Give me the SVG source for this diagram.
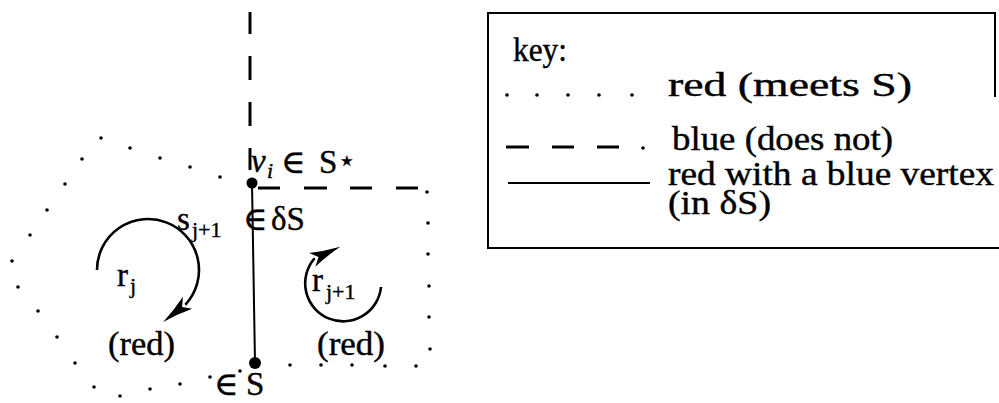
<svg xmlns="http://www.w3.org/2000/svg" width="999" height="403" viewBox="0 0 999 403">
<defs>
<style>
.t{font-family:"Liberation Serif","DejaVu Serif",serif;font-size:33px;fill:#000;stroke:#000;stroke-width:0.4}
.s{font-size:22px}
.sym{font-family:"DejaVu Serif","Liberation Serif",serif}
.dot{fill:#000}
.dash{stroke:#000;stroke-width:3;fill:none}
.solid{stroke:#000;stroke-width:2;fill:none}
.arc{fill:none;stroke:#000;stroke-width:2.6;marker-end:url(#ah)}
.vtx{fill:#000}
.frame{fill:none;stroke:#000;stroke-width:2}
</style>
<marker id="ah" markerUnits="userSpaceOnUse" viewBox="-5 -10 40 20" markerWidth="40" markerHeight="20" refX="0" refY="0" orient="auto">
<path d="M-3,-7.5 Q12,-2.5 28,0 Q12,2.5 -3,7.5 L4,0 Z" fill="#000"/>
</marker>
</defs>
<rect width="999" height="403" fill="#fff"/>

<g id="connectors">
<g id="edge-blue-vertical" class="dash">
<line x1="250" y1="12" x2="250" y2="34"/>
<line x1="250" y1="56" x2="250" y2="80"/>
<line x1="250" y1="102" x2="250" y2="126"/>
<line x1="250" y1="148" x2="250" y2="170"/>
</g>
<g id="edge-blue-horizontal" class="dash">
<line x1="258" y1="188" x2="280" y2="188"/>
<line x1="304" y1="188" x2="327" y2="188"/>
<line x1="350" y1="188" x2="372" y2="188"/>
<line x1="396" y1="188" x2="418" y2="188"/>
</g>
<line id="edge-solid" class="solid" x1="252" y1="183" x2="255" y2="363"/>
<g id="region-left-red">
<circle class="dot" cx="220" cy="177" r="1.8"/>
<circle class="dot" cx="190" cy="167" r="1.8"/>
<circle class="dot" cx="160" cy="158" r="1.8"/>
<circle class="dot" cx="130" cy="148" r="1.8"/>
<circle class="dot" cx="101" cy="138" r="1.8"/>
<circle class="dot" cx="82" cy="159" r="1.8"/>
<circle class="dot" cx="65" cy="184" r="1.8"/>
<circle class="dot" cx="47" cy="210" r="1.8"/>
<circle class="dot" cx="30" cy="235" r="1.8"/>
<circle class="dot" cx="12" cy="261" r="1.8"/>
<circle class="dot" cx="18" cy="287" r="1.8"/>
<circle class="dot" cx="38" cy="311" r="1.8"/>
<circle class="dot" cx="57" cy="337" r="1.8"/>
<circle class="dot" cx="75" cy="363" r="1.8"/>
<circle class="dot" cx="94" cy="387" r="1.8"/>
<circle class="dot" cx="120" cy="396" r="1.8"/>
<circle class="dot" cx="150" cy="389" r="1.8"/>
<circle class="dot" cx="180" cy="384" r="1.8"/>
<circle class="dot" cx="210" cy="377" r="1.8"/>
<circle class="dot" cx="240" cy="371" r="1.8"/>
</g>
<g id="region-right-red">
<circle class="dot" cx="427" cy="192" r="1.8"/>
<circle class="dot" cx="428" cy="223" r="1.8"/>
<circle class="dot" cx="428" cy="254" r="1.8"/>
<circle class="dot" cx="429" cy="286" r="1.8"/>
<circle class="dot" cx="429" cy="317" r="1.8"/>
<circle class="dot" cx="430" cy="349" r="1.8"/>
<circle class="dot" cx="290" cy="365" r="1.8"/>
<circle class="dot" cx="321" cy="365" r="1.8"/>
<circle class="dot" cx="352" cy="365" r="1.8"/>
<circle class="dot" cx="385" cy="366" r="1.8"/>
<circle class="dot" cx="416" cy="366" r="1.8"/>
</g>
<path id="arrow-rj" class="arc" d="M97,270 A51 51 0 1 1 186,304 l-0.79,0.62"/>
<path id="arrow-rj1" class="arc" d="M381,287 A38 38 0 1 1 314,259 l0.91,-0.42"/>
</g>

<g id="v-top">
<circle class="vtx" cx="252" cy="183" r="5.5"/>
<text class="t" x="251" y="172" font-style="italic">ν<tspan class="s" x="267" y="178">i</tspan><tspan class="sym" x="281" y="173" font-style="normal">∈</tspan><tspan x="319" y="173" font-style="normal">S</tspan><tspan class="sym" x="338" y="170" font-size="28px" font-style="normal">⋆</tspan></text>
</g>
<g id="v-bottom">
<circle class="vtx" cx="255" cy="363" r="6"/>
<text class="t" x="214" y="395"><tspan class="sym">∈</tspan><tspan x="246">S</tspan></text>
</g>
<g id="label-edge">
<text class="t" x="177" y="230">s<tspan class="s" x="192" y="237">j+1</tspan><tspan class="sym" x="243" y="230">∈</tspan><tspan x="271" y="230">δS</tspan></text>
</g>
<g id="region-rj">
<text class="t" x="117" y="286">r<tspan class="s" x="130" y="293">j</tspan></text>
<text class="t" x="108" y="355" textLength="67" lengthAdjust="spacingAndGlyphs">(red)</text>
</g>
<g id="region-rj1">
<text class="t" x="312" y="291">r<tspan class="s" x="326" y="299">j+1</tspan></text>
<text class="t" x="317" y="355" textLength="68" lengthAdjust="spacingAndGlyphs">(red)</text>
</g>

<g id="key">
<path class="frame" d="M995,97 V13 H488 V248 H999"/>
<text class="t" x="513" y="61" textLength="54" lengthAdjust="spacingAndGlyphs">key:</text>
<g>
<circle class="dot" cx="507" cy="95" r="1.8"/>
<circle class="dot" cx="537" cy="95" r="1.8"/>
<circle class="dot" cx="568" cy="95" r="1.8"/>
<circle class="dot" cx="599" cy="95" r="1.8"/>
<circle class="dot" cx="632" cy="95" r="1.8"/>
</g>
<text class="t" x="668" y="96" textLength="244" lengthAdjust="spacingAndGlyphs">red (meets S)</text>
<g class="dash">
<line x1="506" y1="147" x2="529" y2="147"/>
<line x1="552" y1="147" x2="574" y2="147"/>
<line x1="597" y1="147" x2="619" y2="147"/>
</g>
<circle class="dot" cx="643" cy="148" r="1.8"/>
<text class="t" x="672" y="150" textLength="221" lengthAdjust="spacingAndGlyphs">blue (does not)</text>
<line class="solid" x1="508" y1="183" x2="650" y2="183"/>
<text class="t" x="668" y="185" textLength="326" lengthAdjust="spacingAndGlyphs">red with a blue vertex</text>
<text class="t" x="668" y="214" textLength="103" lengthAdjust="spacingAndGlyphs">(in δS)</text>
</g>
</svg>
